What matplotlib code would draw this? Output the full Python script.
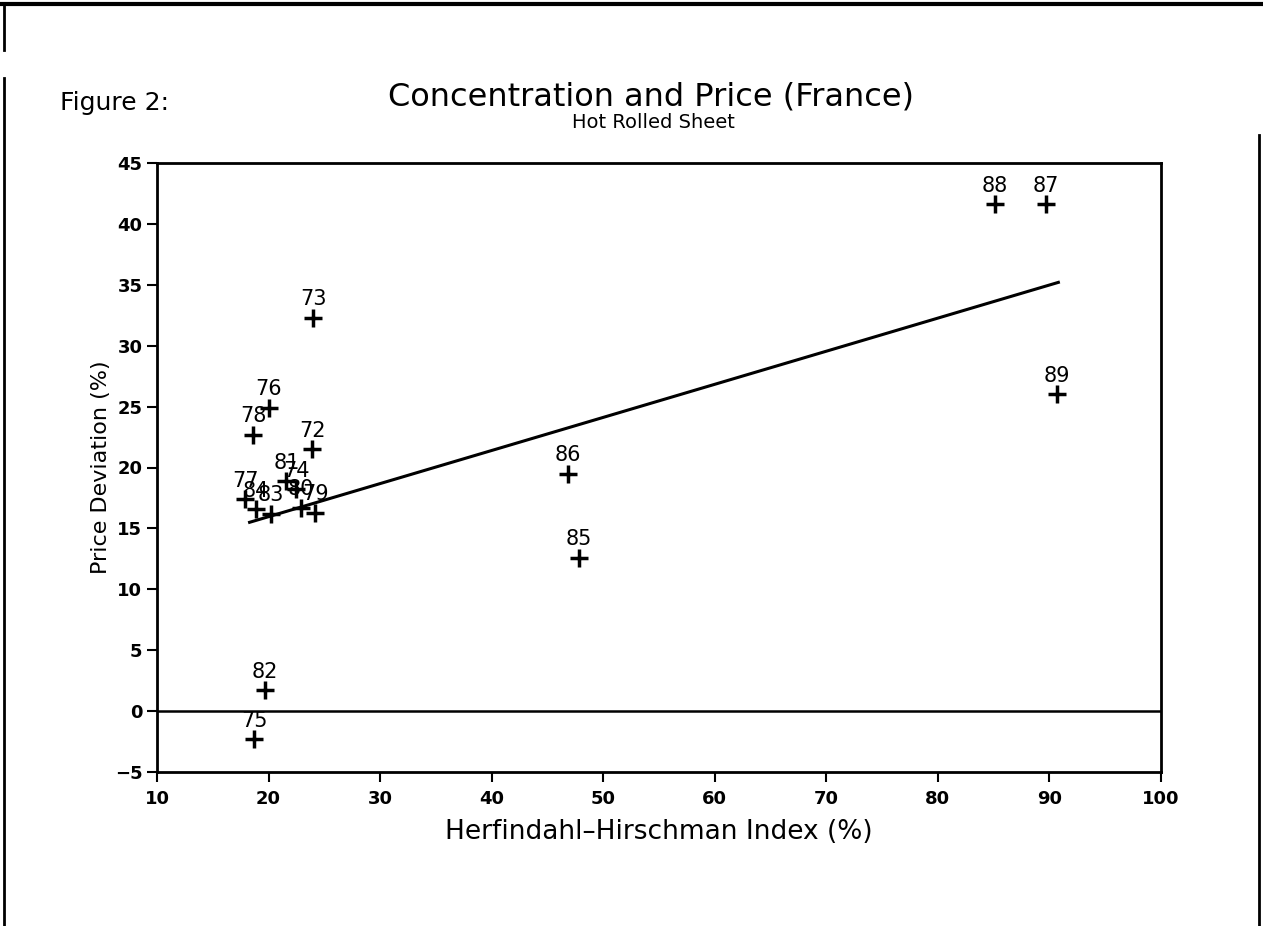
import matplotlib
matplotlib.use("Agg")
import matplotlib.pyplot as plt
from matplotlib.lines import Line2D

# ---- data ----
years = ["72", "73", "74", "75", "76", "77", "78", "79", "80",
         "81", "82", "83", "84", "85", "86", "87", "88", "89"]
hhi = [23.9, 24.0, 22.5, 18.7, 20.0, 17.9, 18.6, 24.2, 22.9,
       21.6, 19.7, 20.2, 18.9, 47.8, 46.8, 89.7, 85.1, 90.7]
price_dev = [21.5, 32.3, 18.2, -2.3, 24.9, 17.4, 22.7, 16.3, 16.7,
             18.9, 1.7, 16.2, 16.6, 12.6, 19.5, 41.6, 41.6, 26.0]
fit_x = [18.3, 90.8]
fit_y = [15.5, 35.2]

x_ticks = [10, 20, 30, 40, 50, 60, 70, 80, 90, 100]
y_ticks = [-5, 0, 5, 10, 15, 20, 25, 30, 35, 40, 45]

W, H = 1263, 926
fig = plt.figure(figsize=(W / 100, H / 100), dpi=100)
fig.patch.set_facecolor("white")

ax = fig.add_axes([157 / W, 1 - 772 / H, (1161 - 157) / W, (772 - 163) / H])
ax.set_xlim(10, 100)
ax.set_ylim(-5, 45)

ax.plot(hhi, price_dev, linestyle="none", marker="+", color="black",
        markersize=13, markeredgewidth=2.5, zorder=3)
for yr, xv, yv in zip(years, hhi, price_dev):
    ax.annotate(yr, (xv, yv), xytext=(0, 6), textcoords="offset points",
                ha="center", va="bottom", fontsize=15, color="black")

ax.plot(fit_x, fit_y, color="black", linewidth=2.2)
ax.axhline(0, color="black", linewidth=1.8)

ax.set_xticks(x_ticks)
ax.set_yticks(y_ticks)
ax.set_xticklabels([str(v) for v in x_ticks], fontsize=13, fontweight="bold")
ax.set_yticklabels([("\u2212" + str(-v)) if v < 0 else str(v) for v in y_ticks],
                   fontsize=13, fontweight="bold")
ax.tick_params(axis="both", direction="out", length=7, width=1.5, color="black")
ax.tick_params(axis="x", pad=6)
for s in ax.spines.values():
    s.set_linewidth(2)
    s.set_color("black")

ax.set_xlabel("Herfindahl\u2013Hirschman Index (%)", fontsize=19, labelpad=8)
ax.set_ylabel("Price Deviation (%)", fontsize=16, labelpad=3)

# titles
fig.text(651 / W, 1 - 97 / H, "Concentration and Price (France)",
         ha="center", va="center", fontsize=23)
fig.text(653 / W, 1 - 123 / H, "Hot Rolled Sheet",
         ha="center", va="center", fontsize=14)
fig.text(60 / W, 1 - 103 / H, "Figure 2:", ha="left", va="center",
         fontsize=18)

# page border lines
fig.add_artist(Line2D([0, 1], [1 - 4 / H, 1 - 4 / H], transform=fig.transFigure,
                      color="black", linewidth=3))
fig.add_artist(Line2D([4 / W, 4 / W], [1 - 50 / H, 1 - 4 / H],
                      transform=fig.transFigure, color="black", linewidth=2))
fig.add_artist(Line2D([4 / W, 4 / W], [0, 1 - 78 / H],
                      transform=fig.transFigure, color="black", linewidth=2))
fig.add_artist(Line2D([1259 / W, 1259 / W], [0, 1 - 135 / H],
                      transform=fig.transFigure, color="black", linewidth=2))

fig.savefig("out.png", dpi=100, facecolor="white")
